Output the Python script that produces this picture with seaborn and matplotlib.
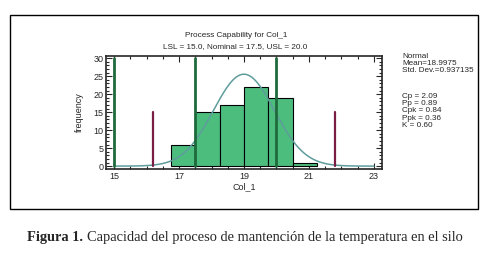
import matplotlib
matplotlib.use("Agg")
import matplotlib.pyplot as plt
from matplotlib.patches import Rectangle
from matplotlib.ticker import MultipleLocator
import numpy as np
import pandas as pd
import seaborn as sns

# histogram data
bin_start = 16.75
bin_width = 0.75
counts = [6, 15, 17, 22, 19, 1]

mean = 18.9975
std_dev = 0.937135
lsl, nominal, usl = 15.0, 17.5, 20.0
x_ticks = [15, 17, 19, 21, 23]

stat_lines = ["Normal", "Mean=18.9975", "Std. Dev.=0.937135"]
index_lines = ["Cp = 2.09", "Pp = 0.89", "Cpk = 0.84", "Ppk = 0.36", "K = 0.60"]

n_obs = sum(counts)
edges = bin_start + bin_width * np.arange(len(counts) + 1)
hist_df = pd.DataFrame({"Col_1": (edges[:-1] + edges[1:]) / 2, "n": counts})

sns.set_style("ticks")
plt.rcParams["font.family"] = ["Liberation Sans", "DejaVu Sans"]

fig = plt.figure(figsize=(5.01, 2.59), dpi=100)
ax = fig.add_axes([106 / 501, 1 - 169 / 259, 276 / 501, 113 / 259])

sns.histplot(data=hist_df, x="Col_1", weights="n", binwidth=bin_width,
             binrange=(float(edges[0]), float(edges[-1])), ax=ax,
             color="#4dbd7e", alpha=1, edgecolor="black", linewidth=0.8)

# fitted normal curve
xs = np.linspace(15, 23, 300)
pdf = np.exp(-0.5 * ((xs - mean) / std_dev) ** 2) / (std_dev * np.sqrt(2 * np.pi))
sns.lineplot(x=xs, y=pdf * n_obs * bin_width, ax=ax, color="#5f9c9c", linewidth=1.1)

# spec limits and 3-sigma lines
for v in [lsl, nominal, usl]:
    ax.plot([v, v], [0, 30], color="#1e6a3c", linewidth=2)
for v in [mean - 3 * std_dev, mean + 3 * std_dev]:
    ax.plot([v, v], [0, 15], color="#7b1e45", linewidth=1.6)

ax.set_xlim(14.75, 23.25)
ax.set_ylim(-0.8, 30.6)
ax.set_xticks(x_ticks)
ax.xaxis.set_minor_locator(MultipleLocator(0.5))
ax.yaxis.set_major_locator(MultipleLocator(5))
ax.yaxis.set_minor_locator(MultipleLocator(1))
ax.tick_params(which="both", direction="in", top=True, right=True, labelsize=6.5, pad=2)
ax.tick_params(which="major", length=4, width=0.8)
ax.tick_params(which="minor", length=2.5, width=0.8)
for s in ax.spines.values():
    s.set_linewidth(1.2)
ax.set_xlabel("Col_1", fontsize=6.5, labelpad=1)
ax.set_ylabel("frequency", fontsize=6.5, labelpad=7)

fig.text(236 / 501, 1 - 36 / 259, "Process Capability for Col_1", ha="center", va="center", fontsize=5.9)
fig.text(235 / 501, 1 - 47 / 259, "LSL = 15.0, Nominal = 17.5, USL = 20.0", ha="center", va="center", fontsize=5.9)

# statistics blocks at the right
fig.text(402 / 501, 1 - 53 / 259, "\n".join(stat_lines), ha="left", va="top",
         fontsize=5.9, linespacing=1.02)
fig.text(402 / 501, 1 - 93 / 259, "\n".join(index_lines), ha="left", va="top",
         fontsize=5.9, linespacing=1.05)

# outer frame of the exported graphic
fig.patches.append(Rectangle((10 / 501, 1 - 209 / 259), 468 / 501, 194 / 259,
                             transform=fig.transFigure, fill=False, edgecolor="black", linewidth=1))

# caption: bold label, then the rest placed right after it
cap_y = 1 - 237 / 259
lab = fig.text(27 / 501, cap_y, "Figura 1.", ha="left", va="center", fontsize=10.4,
               family="Liberation Serif", weight="bold")
renderer = fig.canvas.get_renderer()
bb = lab.get_window_extent(renderer=renderer)
fig.text((bb.x1 + 4) / 501, cap_y, "Capacidad del proceso de mantención de la temperatura en el silo",
         ha="left", va="center", fontsize=10.4, family="Liberation Serif")

fig.savefig("out.png", dpi=100)
